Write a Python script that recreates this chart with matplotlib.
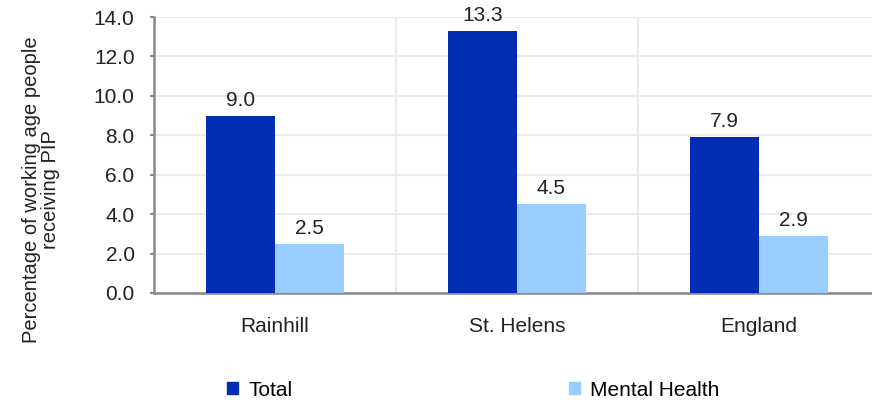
import matplotlib
matplotlib.use("Agg")
import matplotlib.pyplot as plt
import numpy as np
from matplotlib.patches import Patch

plt.rcParams['font.family'] = ['Liberation Sans', 'DejaVu Sans']

areas = ["Rainhill", "St. Helens", "England"]
total = [9.0, 13.3, 7.9]
mental = [2.5, 4.5, 2.9]
yticks = [0, 2, 4, 6, 8, 10, 12, 14]

c_total = "#002DB3"
c_mental = "#99CCFF"

fig = plt.figure(figsize=(8.72, 4.03), dpi=100)
ax = fig.add_axes([154 / 872, 110 / 403, 1 - 154 / 872, 276 / 403])

x = np.arange(len(areas))
w = 0.285
b1 = ax.bar(x - w / 2, total, w, color=c_total, zorder=3)
b2 = ax.bar(x + w / 2, mental, w, color=c_mental, zorder=3)

for bars, vals in ((b1, total), (b2, mental)):
    for r, v in zip(bars, vals):
        ax.text(r.get_x() + r.get_width() / 2, v + 0.3, "%.1f" % v,
                ha="center", va="bottom", fontsize=15, color="#222222")

ax.set_xlim(-0.5, 2.467)
ax.set_ylim(0, 14)
ax.set_yticks(yticks)
ax.set_yticklabels(["%.1f" % t for t in yticks], fontsize=15, color="#222222")
ax.set_xticks(x)
ax.set_xticklabels(areas, fontsize=15, color="#222222")
ax.set_xticks([0.5, 1.5], minor=True)
ax.tick_params(axis="x", which="both", length=0, pad=17)
ax.tick_params(axis="y", length=3, color="#888888", width=1.5, pad=11)

ax.grid(axis="y", color="#ebebeb", linewidth=1.5, zorder=0)
ax.grid(axis="x", which="minor", color="#ebebeb", linewidth=1.5, zorder=0)
for s in ("top", "right"):
    ax.spines[s].set_visible(False)
for s in ("left", "bottom"):
    ax.spines[s].set_color("#888888")
    ax.spines[s].set_linewidth(1.8)

ax.set_ylabel("Percentage of working age people\nreceiving PIP", fontsize=14.5,
              color="#222222", linespacing=1.0)
ax.yaxis.set_label_coords(-0.131, 0.373)

handles = [Patch(color=c_total, label="Total"), Patch(color=c_mental, label="Mental Health")]
fig.legend(handles=handles, ncol=2, loc="center left", bbox_to_anchor=(219 / 872, 13 / 403),
           frameon=False, fontsize=15, handlelength=0.5, handleheight=0.5,
           handletextpad=0.5, columnspacing=13.3, borderaxespad=0)

fig.savefig("out.png", dpi=100)
